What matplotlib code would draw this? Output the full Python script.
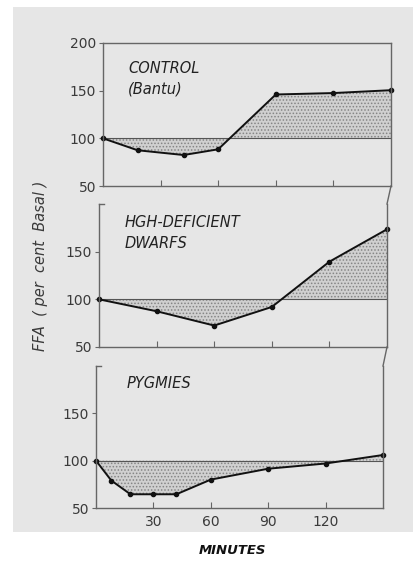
import numpy as np
import matplotlib
matplotlib.use('Agg')
import matplotlib.pyplot as plt
from matplotlib.patches import Rectangle
from matplotlib.lines import Line2D

# datos
control_t = [0, 18, 42, 60, 90, 120, 150]
control_v = [100, 87.5, 82.5, 88.5, 146, 147.5, 150.5]
dwarf_t = [0, 30, 60, 90, 120, 150]
dwarf_v = [100, 87.5, 72.5, 92, 139.5, 173.5]
pygmy_t = [0, 8, 18, 30, 42, 60, 90, 120, 150]
pygmy_v = [100, 79, 64.5, 64.5, 64.5, 80, 91.5, 97, 106]

panel_labels = ['CONTROL\n(Bantu)', 'HGH-DEFICIENT\nDWARFS', 'PYGMIES']
x_ticks = [30, 60, 90, 120]

plt.rcParams['hatch.color'] = '#858585'
plt.rcParams['hatch.linewidth'] = 0.7

W, H = 414, 561
fig = plt.figure(figsize=(W / 100, H / 100), dpi=100)
fig.patch.set_facecolor('white')
# fondo de papel
fig.patches.append(Rectangle((13 / W, 1 - 532 / H), 1, (532 - 7) / H,
                             transform=fig.transFigure, facecolor='#e6e6e6',
                             edgecolor='none', zorder=-10))

# left, right, top, bottom en pixeles
boxes = [(103, 391, 43, 186), (99, 387, 204, 347), (96, 383, 366, 508)]
label_pos = [(0.087, 0.75), (0.09, 0.80), (0.105, 0.88)]
series = [(control_t, control_v), (dwarf_t, dwarf_v), (pygmy_t, pygmy_v)]
ink = '#3a3a3a'

for i, ((l, r, t, b), (tt, vv), lab, lp) in enumerate(zip(boxes, series, panel_labels, label_pos)):
    ax = fig.add_axes([l / W, 1 - b / H, (r - l) / W, (b - t) / H])
    ax.patch.set_alpha(0)
    ax.set_xlim(0, 150)
    ax.set_ylim(50, 200)
    tt = np.array(tt, float)
    vv = np.array(vv, float)
    ax.fill_between(tt, vv, 100, interpolate=True, facecolor='#d0d0d0',
                    hatch='.....', edgecolor='#858585', linewidth=0)
    ax.plot([0, 150], [100, 100], color='#555555', lw=0.8)
    ax.plot(tt, vv, color='#111111', lw=1.4, marker='o', ms=3, clip_on=False)
    for s in ax.spines.values():
        s.set_color('#666666')
        s.set_linewidth(1.0)
    ax.set_yticks([50, 100, 150])
    if i > 0:
        ax.spines['top'].set_visible(False)
        ax.plot([0, 2.5], [200, 200], color='#666666', lw=1.0, clip_on=False)
    else:
        ax.set_yticks([50, 100, 150, 200])
    ax.set_xticks(x_ticks)
    if i < 2:
        ax.set_xticklabels([])
    ax.tick_params(axis='x', direction='in', length=4, color='#666666',
                   labelsize=10, labelcolor=ink, pad=5)
    ax.tick_params(axis='y', direction='out', length=3, color='#666666',
                   labelsize=10, labelcolor=ink, pad=2)
    ax.text(lp[0], lp[1], lab, transform=ax.transAxes, style='italic', fontsize=10.5,
            color='#222222', va='center', ha='left', linespacing=1.5)

# linea derecha continua entre paneles
for (l1, r1, t1, b1), (l2, r2, t2, b2) in zip(boxes[:-1], boxes[1:]):
    fig.lines.append(Line2D([r1 / W, r2 / W], [1 - b1 / H, 1 - t2 / H],
                            transform=fig.transFigure, color='#666666', lw=1.0))

fig.text(41 / W, 1 - 266 / H, 'FFA  ( per  cent  Basal )', rotation=90,
         style='italic', fontsize=10.5, color=ink, ha='center', va='center')
fig.text(232 / W, 1 - 551 / H, 'MINUTES', style='italic', weight='bold',
         fontsize=9.5, color='#111111', ha='center', va='center')

fig.savefig('out.png', dpi=100, facecolor=fig.get_facecolor())
